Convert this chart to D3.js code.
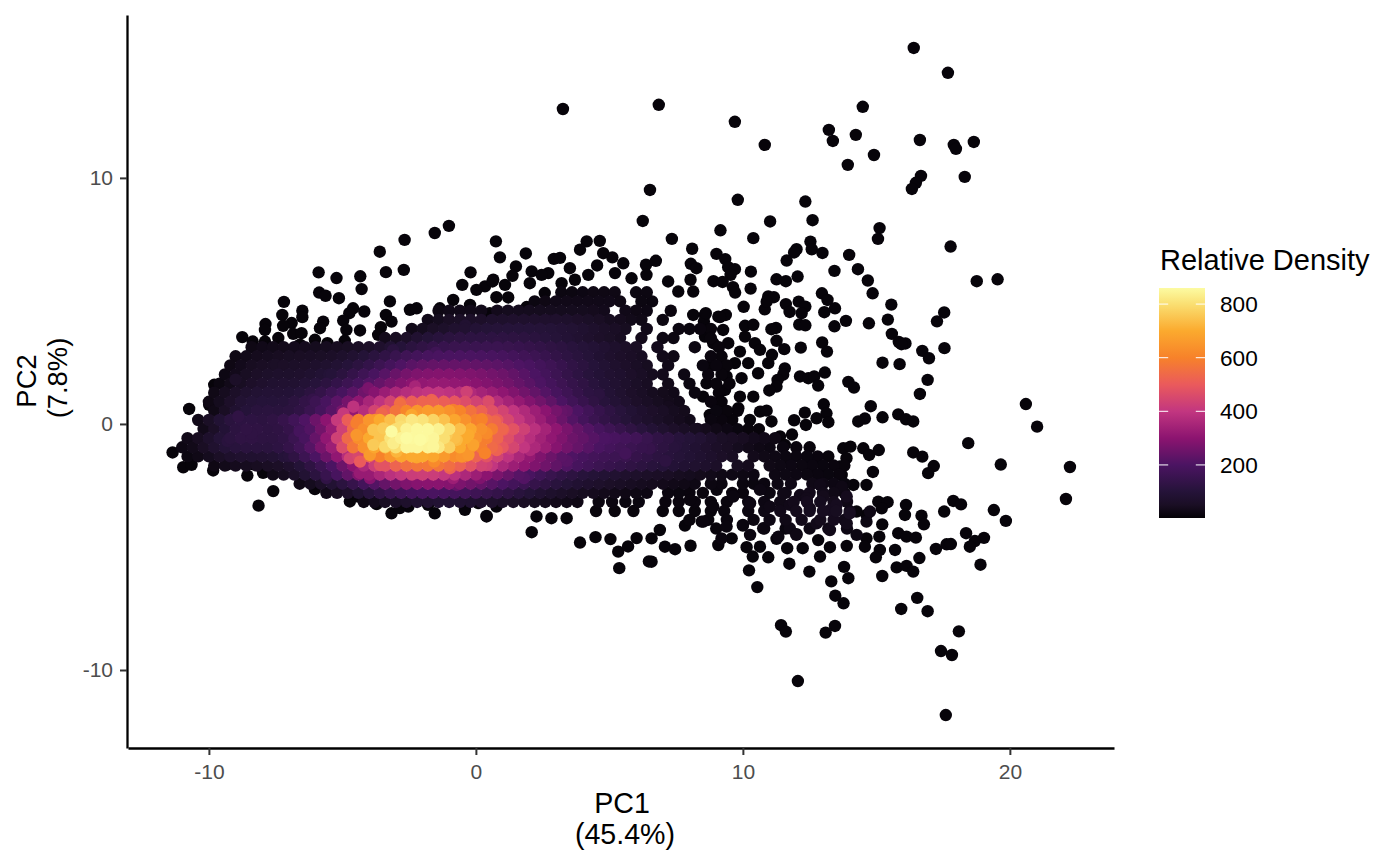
<!DOCTYPE html>
<html><head><meta charset="utf-8">
<script src="https://cdn.jsdelivr.net/npm/d3@7"></script>
<style>html,body{margin:0;padding:0;background:#fff}text{font-family:"Liberation Sans",Arial,sans-serif}</style>
</head><body><svg id="c" width="1400" height="865"></svg>
<script>
const xTicks=[-10,0,10,20], yTicks=[-10,0,10], legendTicks=[200,400,600,800];
const xTitle=["PC1","(45.4%)"], yTitle=["PC2","(7.8%)"], legendTitle="Relative Density";
const colorLevels=[2,50,100,200,300,400,500,600,700,800,860];
const colorHex=["#040206","#1a0e24","#251339","#4b1462","#8c1470","#c23680","#ea5a5c","#f7822a","#fbaa2e","#fadf72","#fcfba2"];
// isolated points, as [PC1, PC2]
const sparsePoints=[[16.4,15.28],[17.68,14.27],[3.26,12.8],[6.85,12.97],[9.7,12.28],[14.49,12.89],[13.22,11.95],[14.23,11.75],[13.37,11.5],[10.82,11.34],[16.63,11.54],[17.9,11.34],[17.98,11.18],[18.65,11.46],[14.91,10.93],[13.93,10.53],[18.31,10.04],[16.67,10.08],[16.48,9.8],[16.33,9.55],[6.52,9.51],[6.25,8.25],[-1.01,8.05],[-1.54,7.76],[7.34,7.52],
[9.81,9.11],[12.34,9.04],[11.02,8.23],[12.61,8.28],[9.16,7.87],[10.39,7.55],[15.12,7.96],[15.06,7.52],[17.78,7.21],[12.53,7.41],[12.58,7.1],[12.98,6.95],[12.01,7.1],[11.92,6.97],[11.64,6.64],[13.98,6.87],[9.01,6.91],[9.34,6.7],[9.45,6.37],[9.7,6.29],[9.54,6.06],[10.3,6.19],[13.43,6.22],[14.31,6.29],[14.68,5.83],[14.86,5.31],[8.9,5.8],[9.24,5.77],[9.63,5.56],[9.71,5.34],[10.29,5.5],[11.26,5.88],[11.61,5.8],[12.05,5.99],[18.76,5.8],[19.54,5.88],[12.96,5.31],[13.17,5.04],[13.45,4.7],[13.05,4.54],[15.56,4.85],[15.43,4.24],[17.54,4.53],[17.27,4.17],[10.03,4.76],[10.95,5.18],[11.16,5.15],[10.82,4.66],[10.89,4.97],[11.61,4.87],[11.75,4.55],[12.09,4.97],[12.34,4.77],[12.2,4.5],[13.86,4.19],[14.72,4.09],[13.43,3.97],[12.11,4.04],[12.34,4.01],[15.58,3.66],[15.84,3.33],[16.09,3.27],[15.94,3.24],[16.72,2.97],[16.97,2.67],[17.55,3.08],[11.24,3.9],[11.07,3.85],[11.26,3.38],[11.55,3.04],[12.17,3.1],[12.97,3.31],[13.15,2.94],[11.09,2.81],[10.95,2.47],[11.57,2.26],[11.51,2],[11.3,1.79],[11.26,1.52],[10.99,1.36],[15.23,2.49],[15.87,2.43],[12.14,1.93],[12.45,1.86],[12.67,1.93],[13.07,2.09],[12.82,1.56],[13.95,1.71],[14.16,1.48],[16.92,1.79],[16.63,1.22],[20.6,.81],[21.02,-.11],[14.79,.72],[15.23,.27],[13.03,.8],[13.13,.43],[12.76,.23],[13.2,.07],[12.32,.46],[11.92,.15],[12.36,-.04],[11.84,-.43],[14.57,.22],[14.32,.1],[15.82,.39],[16.11,.19],[16.38,.1],[18.44,-.78],[19.66,-1.65],[13.76,-.99],[14.03,-.92],[14.51,-.99],[14.73,-1.26],[15.09,-1.06],[13.88,-1.39],[16.38,-1.16],[16.72,-1.33],[17.15,-1.71],[16.94,-2],[14.87,-1.95],[13.63,-1.73],[13.7,-2.07],[12.72,-1.5],[12.35,-1.71],[12.45,-2],[13.01,-2],
[8.58,4.43],[9.08,4.36],[9.36,4.43],[8.54,4.16],[10.08,3.99],[10.39,4.03],[9.26,3.82],[8.58,3.55],[8.89,3.28],[9.45,3.28],[10.08,3.55],[10.45,3.28],[9.89,2.94],[10.64,3.01],[9.7,2.47],[10.2,2.47],[8.76,2.36],[9.33,2.33],[10.57,2.06],[9.95,1.86],[9.39,1.93],[9.33,1.38],[9.89,1.11],[10.39,1.11],[9.83,.64],[10.64,.5],[10.89,.54],[9.26,.43],[8.76,.37],[11.07,.1],[10.26,.16],[8.95,.84],[11.39,-.51],[11.57,-.85],[11.7,-1.44],[9.01,-.04],[9.51,-.51],[8.64,1.65],[8.51,1.11],
[14.14,-2.48],[14.63,-2.48],[13.64,-2.68],[15.07,-3.16],[15.42,-3.18],[15.2,-3.43],[16.11,-3.29],[16.07,-3.7],[16.69,-3.73],[16.78,-4.08],[17.88,-3.13],[18.17,-3.27],[17.54,-3.56],[19.4,-3.5],[15.22,-4.08],[14.63,-3.7],[14.26,-3.56],[15.82,-4.44],[16.13,-4.58],[16.48,-4.62],[14.63,-4.65],[15.11,-4.58],[18.36,-4.44],[19.03,-4.63],[18.69,-4.76],[18.5,-4.99],[17.63,-4.89],[17.23,-5.08],[17.79,-4.88],[15.7,-5.12],[15.13,-5.12],[14.57,-4.99],[16.61,-5.45],[14.98,-5.42],[13.89,-4.96],[18.9,-5.72],[15.76,-5.83],[16.13,-5.77],[16.38,-6],[15.22,-6.18],[13.79,-5.81],[13.95,-6.27],[13.31,-6.4],[12.49,-6],[11.74,-5.68],[12.89,-5.39],[13.26,-5.01],[12.82,-4.72],[12.24,-5.05],[11.66,-5.05],[10.95,-5.42],[10.64,-4.99],[10.14,-5.01],[10.37,-5.39],[10.23,-5.95],[10.54,-6.63],[13.46,-6.98],[13.77,-7.29],[16.53,-7.07],[15.93,-7.52],[16.92,-7.61],[11.43,-8.18],[11.61,-8.44],[13.45,-8.21],[13.1,-8.48],[18.09,-8.43],[8.04,-4.95],[7.08,-4.99],[7.46,-5.09],[6.89,-4.31],[6.58,-4.65],[6.58,-5.6],[7.83,-4.13],[8.46,-3.97],[10,-4.13],[12.01,-4.48],[11.26,-4.67],[9.08,-4.92],[9.58,-4.65],[12.06,-10.45],[17.6,-11.83],[17.42,-9.23],[17.83,-9.39],[22.25,-1.75],[22.1,-3.05],[19.85,-3.94],
[.75,7.42],[4.15,7.42],[4.64,7.44],[3.9,7.08],[8.1,7.12],[.9,6.77],[1.87,6.93],[2.92,6.71],[3.15,6.75],[4.77,6.94],[5.11,6.77],[5.52,6.53],[4.54,6.44],[1.5,6.4],[3.52,6.33],[1.37,6.02],[2.09,6.2],[2.71,6.13],[2.46,6.06],[2.02,5.72],[5.21,6.13],[6.37,6.47],[6.74,6.63],[8.05,6.51],[8.26,6.33],[8.04,5.86],[7.2,5.79],[7.58,5.38],[8.14,5.38],[6.39,6.06],[5.83,5.92],[4.21,6.06],[3.71,5.86],[3.21,5.72],[.65,5.86],[1.09,5.65],[.34,5.59],[.77,5.15],[1.21,5.14],[2.58,5.32],[1.9,4.75],[.52,4.5],[8.61,4.5],[8.14,4.43],[9.14,4.34],
[2.09,-4.4],[3.9,-4.82],[4.48,-4.6],[5.04,-4.68],[5.33,-5.19],[5.37,-5.86],[6.48,-5.59],[6.02,-4.64],[5.7,-4.98],[.4,-3.76],[2.27,-3.76],[2.83,-3.83],[3.4,-3.83],
[-2.67,7.48],[-3.6,7],[-5.89,6.16],[-5.22,5.93],[-4.33,6],[-3.37,6.17],[-2.7,6.26],[-.2,6.16],[-.51,5.65],[-4.28,5.48],[-5.87,5.34],[-5.63,5.21],[-5.13,5.11],[-3.22,4.98],[-7.19,4.96],[-6.5,4.6],[-6.5,4.34],[-7.25,4.43],[-4.6,4.7],[-4.74,4.5],[-4.18,4.57],[-4.97,4.2],[-3.37,4.43],[-3.16,4.16],[-7.88,4.06],[-7.9,3.82],[-6.9,4.1],[-7.22,3.99],[-5.72,4.16],[-5.84,3.89],[-4.85,3.82],[-4.34,3.8],[-3.56,3.93],[-3.66,3.62],[-6.84,3.66],[-6.53,3.69],[-8.75,3.53],[-8.36,3.35],[-7.9,3.35],[-7.4,3.49],[-6.03,3.42],[-4.91,3.38],[-5.56,3.28],[-6.59,3.22],[-6.78,3.08],[-9.8,1.59],[-10.74,.61],[-9.99,.78],[-11.36,-1.16],[-10.96,-1.76],[-10.65,-1.66],[-9.84,-1.89],[-9.34,-1.66],[-8.56,-2.1],[-7.97,-1.99],[-7.59,-2.73],[-8.14,-3.32],[-8.34,-1.64],[-6.03,-2.65],[-5.18,-2.75],[-4.72,-3.15],[-4.41,-2.95],[-3.72,-3.26],[-3.16,-3.63],[-2.53,-3.36],[-2.85,-3.42],[-1.54,-3.63],[-1.79,-3.29],[-.41,-3.49],[.4,-3.74],[.09,-3.22],[.77,-3.36],[-2.47,4.64],[-2.22,4.7],[-1.35,4.7],[-.85,5.04],[-.22,4.84],[.02,5.45],[.62,5.79]];
const sparseDensity=8;
// dense cloud, read row by row: PC2 of the row, PC1 readings, density readings
const rowY=[5.35,4.98,4.6,4.23,3.86,3.49,3.12,2.75,2.38,2.01,1.64,1.27,.9,.53,.16,-.21,-.58,-.95,-1.32,-1.69,-2.06,-2.43,-2.8,-3.17,-3.54,-3.9,-4.25];
const rowStagger=[.2,-.1,-.2,0,.2,0,.2,0,0,0,0,-.1,-.1,.2,-.2,.2,0,0,0,.2,-.2,0,0,.2,0,0,0];
const rowX=[
[3,3.4,3.8,4.2,4.6,5,5.4,5.8,6.2],
[2.3,2.7,3.1,3.5,3.9,4.3,4.7,5.1,5.5,5.9,6.3,6.7],
[-1.2,-.8,-.4,0,.4,1,1.4,1.8,2.2,2.6,3,3.4,3.8,4.2,4.6,5,5.4,5.8,6.2,6.6,7,7.5],
[-1.8,-1.4,-1,-.6,-.2,.2,.6,1,1.4,1.8,2.2,2.6,3,3.4,3.8,4.2,4.6,5,5.4,5.8,6.2,6.6,7,7.4,7.8,8.2],
[-2.6,-2.2,-1.8,-1.4,-1,-.6,-.2,.2,.6,1,1.4,1.8,2.2,2.6,3,3.4,3.8,4.2,4.6,5,5.4,5.8,6.2,6.6,7,7.4,7.8,8.2,8.6],
[-3.4,-3,-2.6,-2.2,-1.8,-1.4,-1,-.6,-.2,.2,.6,1,1.4,1.8,2.2,2.6,3,3.4,3.8,4.2,4.6,5,5.4,5.8,6.2,6.6,7,7.4,7.8,8.2,8.8],
[-8.6,-8.2,-7.8,-7.4,-7,-6.6,-6.2,-5.8,-5.4,-5,-4.6,-4.2,-3.8,-3.4,-3,-2.6,-2.2,-1.8,-1.4,-1,-.6,-.2,.2,.6,1,1.4,1.8,2.2,2.6,3,3.4,3.8,4.2,4.6,5,5.4,5.8,6.2,6.6,7,7.4,8,8.4,8.9],
[-9,-8.6,-8.2,-7.8,-7.4,-7,-6.6,-6.2,-5.8,-5.4,-5,-4.6,-4.2,-3.8,-3.4,-3,-2.6,-2.2,-1.8,-1.4,-1,-.6,-.2,.2,.6,1,1.4,1.8,2.2,2.6,3,3.4,3.8,4.2,4.6,5,5.4,5.8,6.2,6.6,7,7.4,7.8,8.3,8.8,9.2],
[-9.2,-8.8,-8.4,-8,-7.6,-7.2,-6.8,-6.4,-6,-5.6,-5.2,-4.8,-4.4,-4,-3.6,-3.2,-2.8,-2.4,-2,-1.6,-1.2,-.8,-.4,0,.4,.8,1.2,1.6,2,2.4,2.8,3.2,3.6,4,4.4,4.8,5.2,5.6,6,6.4,6.8,7.2,7.6,8,8.5,9,9.4],
[-9.4,-9,-8.6,-8.2,-7.8,-7.4,-7,-6.6,-6.2,-5.8,-5.4,-5,-4.6,-4.2,-3.8,-3.4,-3,-2.6,-2.2,-1.8,-1.4,-1,-.6,-.2,.2,.6,1,1.4,1.8,2.2,2.6,3,3.4,3.8,4.2,4.6,5,5.4,5.8,6.2,6.6,7,7.4,7.8,8.2,8.7,9.2],
[-9.6,-9.2,-8.8,-8.4,-8,-7.6,-7.2,-6.8,-6.4,-6,-5.6,-5.2,-4.8,-4.4,-4,-3.6,-3.2,-2.8,-2.4,-2,-1.6,-1.2,-.8,-.4,0,.4,.8,1.2,1.6,2,2.4,2.8,3.2,3.6,4,4.4,4.8,5.2,5.6,6,6.4,6.8,7.2,7.6,8,8.5,9,9.5],
[-9.7,-9.3,-8.9,-8.5,-8.1,-7.7,-7.3,-6.9,-6.5,-6.1,-5.7,-5.3,-4.9,-4.5,-4.1,-3.7,-3.3,-2.9,-2.5,-2.1,-1.7,-1.3,-.9,-.5,-.1,.3,.7,1.1,1.5,1.9,2.3,2.7,3.1,3.5,3.9,4.3,4.7,5.1,5.5,5.9,6.3,6.7,7.1,7.5,7.9,8.3,8.7,9.2],
[-9.9,-9.5,-9.1,-8.7,-8.3,-7.9,-7.5,-7.1,-6.7,-6.3,-5.9,-5.5,-5.1,-4.7,-4.3,-3.9,-3.5,-3.1,-2.7,-2.3,-1.9,-1.5,-1.1,-.7,-.3,.1,.5,.9,1.3,1.7,2.1,2.5,2.9,3.3,3.7,4.1,4.5,4.9,5.3,5.7,6.1,6.5,6.9,7.3,7.7,8.1,8.5,8.9,9.3],
[-10,-9.6,-9.2,-8.8,-8.4,-8,-7.6,-7.2,-6.8,-6.4,-6,-5.6,-5.2,-4.8,-4.4,-4,-3.6,-3.2,-2.8,-2.4,-2,-1.6,-1.2,-.8,-.4,0,.4,.8,1.2,1.6,2,2.4,2.8,3.2,3.6,4,4.4,4.8,5.2,5.6,6,6.4,6.8,7.2,7.6,8,8.4,8.8,9.2,9.6],
[-10.2,-9.8,-9.4,-9,-8.6,-8.2,-7.8,-7.4,-7,-6.6,-6.2,-5.8,-5.4,-5,-4.6,-4.2,-3.8,-3.4,-3,-2.6,-2.2,-1.8,-1.4,-1,-.6,-.2,.2,.6,1,1.4,1.8,2.2,2.6,3,3.4,3.8,4.2,4.6,5,5.4,5.8,6.2,6.6,7,7.4,7.8,8.2,8.6,9,9.4,9.8],
[-10.4,-10,-9.6,-9.2,-8.8,-8.4,-8,-7.6,-7.2,-6.8,-6.4,-6,-5.6,-5.2,-4.8,-4.4,-4,-3.6,-3.2,-2.8,-2.4,-2,-1.6,-1.2,-.8,-.4,0,.4,.8,1.2,1.6,2,2.4,2.8,3.2,3.6,4,4.4,4.8,5.2,5.6,6,6.4,6.8,7.2,7.6,8,8.4,8.8,9.2,9.6,10,10.4],
[-10.8,-10.4,-10,-9.6,-9.2,-8.8,-8.4,-8,-7.6,-7.2,-6.8,-6.4,-6,-5.6,-5.2,-4.8,-4.4,-4,-3.6,-3.2,-2.8,-2.4,-2,-1.6,-1.2,-.8,-.4,0,.4,.8,1.2,1.6,2,2.4,2.8,3.2,3.6,4,4.4,4.8,5.2,5.6,6,6.4,6.8,7.2,7.6,8,8.4,8.8,9.2,9.6,10,10.4,10.8,11.2],
[-11,-10.6,-10.2,-9.8,-9.4,-9,-8.6,-8.2,-7.8,-7.4,-7,-6.6,-6.2,-5.8,-5.4,-5,-4.6,-4.2,-3.8,-3.4,-3,-2.6,-2.2,-1.8,-1.4,-1,-.6,-.2,.2,.6,1,1.4,1.8,2.2,2.6,3,3.4,3.8,4.2,4.6,5,5.4,5.8,6.2,6.6,7,7.4,7.8,8.2,8.6,9,9.4,9.8,10.2,10.6,11,11.5,12,12.5],
[-10.8,-10.4,-10,-9.6,-9.2,-8.8,-8.4,-8,-7.6,-7.2,-6.8,-6.4,-6,-5.6,-5.2,-4.8,-4.4,-4,-3.6,-3.2,-2.8,-2.4,-2,-1.6,-1.2,-.8,-.4,0,.4,.8,1.2,1.6,2,2.4,2.8,3.2,3.6,4,4.4,4.8,5.2,5.6,6,6.4,6.8,7.2,7.6,8,8.4,8.8,9.2,9.6,10,10.4,10.8,11.2,11.6,12,12.4,12.8,13.2],
[-10,-9.6,-9.2,-8.8,-8.4,-8,-7.6,-7.2,-6.8,-6.4,-6,-5.6,-5.2,-4.8,-4.4,-4,-3.6,-3.2,-2.8,-2.4,-2,-1.6,-1.2,-.8,-.4,0,.4,.8,1.2,1.6,2,2.4,2.8,3.2,3.6,4,4.4,4.8,5.2,5.6,6,6.4,6.8,7.2,7.6,8,8.4,8.8,9.2,9.6,10,10.4,10.8,11.2,11.6,12,12.4,12.8,13.2,13.6],
[-7.4,-7,-6.6,-6.2,-5.8,-5.4,-5,-4.6,-4.2,-3.8,-3.4,-3,-2.6,-2.2,-1.8,-1.4,-1,-.6,-.2,.2,.6,1,1.4,1.8,2.2,2.6,3,3.4,3.8,4.2,4.6,5,5.4,5.8,6.2,6.6,7,7.4,7.8,8.2,8.6,9,9.4,9.8,10.2,10.6,11,11.4,11.8,12.2,12.6,13,13.4,13.8],
[-6.6,-6.2,-5.8,-5.4,-5,-4.6,-4.2,-3.8,-3.4,-3,-2.6,-2.2,-1.8,-1.4,-1,-.6,-.2,.2,.6,1,1.4,1.8,2.2,2.6,3,3.4,3.8,4.2,4.6,5,5.4,5.8,6.2,6.6,7,7.4,7.8,8.2,8.8,9.2,9.6,10,10.4,10.8,11.3,11.8,12.2,12.6,13,13.4,13.8],
[-5.6,-5.2,-4.8,-4.4,-4,-3.6,-3.2,-2.8,-2.4,-2,-1.6,-1.2,-.8,-.4,0,.4,.8,1.2,1.6,2,2.4,2.8,3.2,3.6,4,4.4,4.8,5.2,5.6,6,6.4,6.8,7.2,7.6,8,8.5,9.6,10,11,11.6,12.1,12.5,13,13.4,13.8],
[-4.4,-4,-3.6,-3.2,-2.8,-2.4,-2,-1.6,-1.2,-.8,-.4,0,.4,.8,1.2,1.6,2,2.4,2.8,3.2,3.6,4.4,4.9,5.4,5.9,6.4,6.9,7.4,8,8.6,9.2,10,10.6,11.2,11.7,12.2,12.7,13.2,13.7],
[4.5,5.2,5.9,7,7.6,8.2,8.8,9.3,10.2,10.8,11.4,12,12.5,13,13.5,14],
[8,8.7,9.4,10.4,11,11.6,12.2,12.9,13.4,13.8],
[9,10.8,11.6,12.5,13.2,13.9]];
const rowDensity=[
[20,20,22,25,25,25,22,20,20],
[20,25,30,30,30,30,30,30,25,25,20,18],
[25,30,30,30,30,35,40,40,40,40,40,40,40,40,38,35,32,30,25,22,18,15],
[30,40,50,55,60,62,68,70,72,72,72,72,72,68,62,56,50,42,38,32,28,25,20,18,15,12],
[30,40,55,65,75,82,90,95,98,100,100,100,98,95,90,85,78,70,60,52,44,36,30,26,22,20,16,14,12],
[35,45,60,80,95,108,115,120,122,122,122,122,120,118,112,105,98,90,82,72,62,55,46,40,34,28,24,20,16,14,12],
[25,30,32,34,35,38,40,42,45,48,52,60,72,85,100,115,128,140,148,152,155,155,155,155,152,148,142,135,125,118,108,98,90,80,68,58,50,42,35,30,25,20,16,12],
[25,32,38,42,45,48,50,52,55,60,68,80,95,112,130,150,168,180,190,196,198,198,198,196,192,188,180,170,160,148,135,122,110,98,84,72,62,54,46,38,32,26,22,18,14,12],
[25,35,45,50,55,58,60,62,68,75,85,100,118,138,160,182,205,222,232,238,240,240,238,235,230,225,215,205,195,180,165,148,130,115,100,86,72,62,52,44,36,30,25,20,16,14,12],
[22,35,48,58,65,68,70,72,78,88,100,115,140,165,192,218,245,265,278,285,288,288,285,280,272,262,250,235,218,200,180,160,140,122,105,92,80,74,62,52,42,35,30,24,18,14,12],
[20,32,48,62,72,78,80,82,90,102,118,138,160,185,212,240,265,285,300,312,318,318,312,305,295,285,272,258,240,222,202,182,162,142,125,108,92,80,68,56,46,38,32,26,20,16,12,10],
[28,42,60,75,85,90,90,92,102,118,140,165,190,220,255,290,325,355,375,390,400,400,392,380,365,345,325,305,282,258,235,212,188,165,142,122,105,90,76,62,52,42,36,30,24,18,14,10],
[25,40,62,85,95,100,100,102,115,135,160,190,225,265,305,350,395,440,480,510,525,525,510,490,465,435,405,375,345,315,285,258,230,200,172,148,125,106,90,75,62,52,44,36,30,24,18,14,10],
[28,50,78,100,110,112,110,115,130,155,185,220,265,315,375,440,505,565,610,650,665,660,640,605,560,520,475,440,400,365,330,298,265,232,200,172,146,124,104,88,74,62,52,42,36,28,22,16,12,10],
[30,55,88,112,122,122,118,125,145,172,205,250,300,410,510,590,650,700,740,790,820,810,780,745,690,640,590,540,495,450,405,365,325,285,248,212,182,156,135,115,98,82,68,56,46,38,30,24,18,14,10],
[32,58,92,118,128,125,120,125,142,172,210,260,320,430,540,630,700,750,800,845,855,855,840,800,740,690,635,585,530,480,430,385,345,305,270,238,212,188,165,145,125,108,90,76,62,52,44,36,28,22,16,12,10],
[30,45,70,95,115,125,125,120,120,130,155,190,240,310,430,540,630,700,750,810,845,855,855,850,800,740,700,640,590,530,470,420,380,340,310,280,250,235,215,200,190,180,170,150,130,120,105,95,85,70,55,50,45,35,30,25],
[22,32,50,75,95,108,112,112,112,122,140,170,215,270,330,460,570,640,690,730,800,850,850,845,820,770,700,640,590,540,490,445,400,360,325,290,262,240,218,198,182,170,158,148,132,120,108,96,84,72,60,50,40,32,26,22,18,14,12],
[20,28,40,55,68,75,78,80,85,100,125,160,200,250,310,375,450,525,600,650,690,700,700,690,660,625,575,525,480,435,395,355,315,280,250,225,205,190,178,168,160,152,142,130,118,108,98,88,78,68,58,48,40,34,28,24,20,18,16,14,12],
[25,32,38,42,45,50,58,72,95,125,160,200,250,300,360,425,480,525,555,570,575,570,550,520,480,440,400,360,330,305,280,255,232,208,188,172,158,148,138,128,118,108,100,92,84,76,68,60,52,44,38,32,28,24,22,20,18,16,14,12],
[30,42,60,85,115,150,190,235,280,320,355,385,405,420,425,420,405,385,360,330,300,272,245,218,195,172,152,135,120,106,96,88,80,72,66,60,54,50,44,40,36,32,28,26,24,22,22,24,24,22,20,18,16,14],
[28,40,60,85,115,145,180,210,238,260,278,290,295,295,288,275,258,240,220,200,180,160,142,125,110,96,84,74,66,58,52,46,42,38,34,30,28,24,20,18,18,16,16,18,22,26,28,28,26,22,16],
[30,45,62,85,110,135,155,172,185,192,195,192,185,175,165,152,140,125,110,96,82,70,60,50,44,38,34,30,26,24,22,20,18,16,15,14,14,14,20,28,32,34,32,28,20],
[25,35,48,60,70,78,82,85,85,82,78,72,66,60,55,50,44,38,34,30,26,18,18,16,16,14,14,14,14,14,14,18,22,28,34,38,40,36,28],
[12,12,12,12,12,12,12,14,18,24,30,36,40,44,44,30],
[12,12,14,18,22,28,32,36,38,30],
[12,14,16,22,26,22]];
// white gaps seen inside the cloud: [PC1, PC2] cells that hold no point
const gapCells=[[5.8,3.86],[7,3.86],[6.8,2.38],[7.6,1.64],[8.3,2.75],[7.4,3.12],[8.2,4.23],[7.4,4.23],[6.2,4.98],[6.6,3.49],[8.1,.9],[8.2,2.01],[8.4,.53],[9.2,.16],[9.4,-.21],[10,-1.32],[9.2,-1.69],[11,-2.06],[9.6,-2.43],[6.8,-2.8],[6.4,-3.17],[12.2,-2.43],[10.4,-1.69],[8.8,2.38],[7.9,1.27],[6.2,3.12],[12.1,-2.8],
[5.9,4.98],[5.4,4.6],[6.6,4.23],[6.6,3.86],[5.8,3.49],[7.8,3.49],[7,3.12],[6.6,2.75],[7.6,2.38],[7.4,2.01],[6.8,1.64],[5.4,5.35],[7,4.6],[7.8,4.23],[8.2,3.49],[8.4,3.12],[7.8,2.75],[8,2.38],[8.5,1.64],[8.7,1.27],[8.5,.9],[8,.53],[8.6,.16]];
// circles that stand out from the rows: PC1, PC2, density
const looseX=[-3.16,-2.78,-1.78,-1.1,-2.6,-3.09,-2.09,-1.6,-2.41,-3.4,-3.84,-2.97,-3.47,-3.84,-.72,-.28,-.1,-4.47,-4.47,-3.78,-2.41,-1.53,-.85,.22,.72,.4,-3.97,-2.22,-1.56,-.53,-.28,.34,.78,-3.59,-4.34,-2.84,-2.28,-1.66,-.35,.47,-3.53,-4.96,-4.03,-4.59,-4.72,-.97,.4,1.28,1.03,1.4,2.03,-4.34,-2.22,-.85,-3.97,.15,-.72,-2.6,2.4,3.2,3.4,1.8,2.6,4.6,4.9,5.6,6.5,7.5,7.1,-5.5,-6.1,-6.6,-7,-5.6,-8.9,-8.4,-9.3,-8,-9,-7.5,-1.5,.8,1.9,-3.1,3.5,-.4,2.8,4.4,5,6.1,7.2,8.3,
8.02,8.89,9.39,9.2,8.52,10,10.76,10.27,11.33,11.76,12,12.76,13.26,13.89,14.26,14.63,14.76,14,13.26,12.51,11.76,11.01,10.27,9.64,9.02,8.14,10.64,11.51,12.39,13.01,13.51,13.89,12.89,12.14,13.7];
const looseY=[-.31,-.11,-.11,-.45,-.58,-.79,-.65,-.92,-.92,-.92,-.85,-1.12,-.18,-.24,-.65,-.45,-.85,-.45,.03,.16,.37,.37,.57,.19,.1,-.38,-1.26,-1.36,-1.53,-1.33,-1.26,-1.19,-1.06,-1.67,-1.53,.84,1.52,.98,1.3,.91,.43,.43,1.45,.7,-1.4,-1.8,-1.67,-1,-.24,.16,-1.06,-2,-2,-2.2,-2.2,-2.2,-2.48,-2.41,1.7,.5,-1.5,-2.2,2.4,1.2,-.6,-1.2,-1,-.9,-1.5,2,1,-.3,-1.3,-2.2,.3,-.4,-.7,.9,1.8,2.4,2.9,3.3,2.6,3,3.4,4,4.2,4.6,3.1,2.1,.7,-.2,
-3.09,-3.36,-4.17,-4.65,-3.97,-4.1,-4.24,-4.51,-4.58,-4.24,-4.51,-4.04,-4.31,-4.04,-4.51,-3.97,-3.56,-3.63,-3.5,-3.43,-3.29,-3.36,-3.22,-2.95,-2.68,-2.41,-2.68,-2.82,-3.02,-2.95,-3.29,-2.95,-2.48,-2.89,-2.55];
const looseD=[860,800,770,760,860,830,860,850,850,790,760,720,760,750,730,700,680,650,590,640,690,640,590,600,530,620,660,690,620,640,650,600,520,480,500,550,350,520,430,460,530,410,270,390,440,520,430,420,500,400,360,320,400,330,290,280,240,270,200,240,220,210,150,115,195,175,145,105,120,95,140,185,105,130,128,125,110,95,60,55,165,125,170,115,85,80,62,38,62,50,38,38,
15,15,14,14,14,16,18,18,20,24,26,30,30,32,22,22,26,44,42,36,30,26,22,18,16,16,22,28,34,36,42,38,30,30,26];

const svg=d3.select("#c");
const x=d3.scaleLinear().domain([-13.03,23.9]).range([128,1114]);
const y=d3.scaleLinear().domain([-13.17,16.62]).range([748,15]);
const color=d3.scaleLinear().domain(colorLevels).range(colorHex).interpolate(d3.interpolateRgb);
const gapSet=new Set(gapCells.map(c=>c.join("|")));
const points=sparsePoints.map(p=>({x:p[0],y:p[1],d:sparseDensity}));
rowY.forEach((v,i)=>rowX[i].forEach((u,j)=>{ if(!gapSet.has(u+"|"+v)) points.push({x:u+rowStagger[i],y:v,d:rowDensity[i][j]??12}); }));
looseX.forEach((u,i)=>points.push({x:u,y:looseY[i],d:looseD[i]}));
points.sort((a,b)=>a.d-b.d);
svg.append("g").selectAll("circle").data(points).join("circle")
  .attr("cx",d=>x(d.x)).attr("cy",d=>y(d.y)).attr("r",6.2).attr("fill",d=>color(d.d));
// axes
const ax=svg.append("g").attr("transform","translate(0,748)").call(d3.axisBottom(x).tickValues(xTicks).tickSize(7).tickSizeOuter(0).tickFormat(d3.format("d")));
const ay=svg.append("g").attr("transform","translate(127,0)").call(d3.axisLeft(y).tickValues(yTicks).tickSize(7).tickSizeOuter(0).tickFormat(d3.format("d")));
[ax,ay].forEach(a=>{a.select(".domain").attr("stroke","#000").attr("stroke-width",2.3);
  a.selectAll(".tick line").attr("stroke","#333").attr("stroke-width",2);
  a.selectAll(".tick text").attr("fill","#4d4d4d").style("font-size","21px").style("font-family",'"Liberation Sans"').text(d=>String(d));});
ax.selectAll(".tick text").attr("y",16);
ay.selectAll(".tick text").attr("x",-14);
// axis titles
const xTitleCx=[622,625], yTitleCy=[381,378];
const tx=svg.append("text").attr("text-anchor","middle").attr("font-size",28.6).attr("fill","#000");
xTitle.forEach((t,i)=>tx.append("tspan").attr("x",xTitleCx[i]).attr("y",813+i*31).text(t));
const ty=svg.append("text").attr("text-anchor","middle").attr("font-size",27.4).attr("fill","#000").attr("transform","rotate(-90)");
yTitle.forEach((t,i)=>ty.append("tspan").attr("x",-yTitleCy[i]).attr("y",36+i*31).text(t));
// legend
const lg=svg.append("defs").append("linearGradient").attr("id","g").attr("x1",0).attr("y1",1).attr("x2",0).attr("y2",0);
const ly=d3.scaleLinear().domain([2,860]).range([518,288]);
colorLevels.forEach(v=>lg.append("stop").attr("offset",(v-2)/858).attr("stop-color",color(v)));
svg.append("rect").attr("x",1159).attr("y",288).attr("width",46).attr("height",230).attr("fill","url(#g)");
legendTicks.forEach(v=>{
  [[1159,1168.2],[1195.8,1205]].forEach(s=>svg.append("line").attr("x1",s[0]).attr("x2",s[1]).attr("y1",ly(v)).attr("y2",ly(v)).attr("stroke","#fff").attr("stroke-width",1));
  svg.append("text").attr("x",1220).attr("y",ly(v)+8).attr("font-size",22.6).attr("fill","#000").text(v);
});
svg.append("text").attr("x",1160).attr("y",270).attr("font-size",29).attr("fill","#000").text(legendTitle);
</script></body></html>
